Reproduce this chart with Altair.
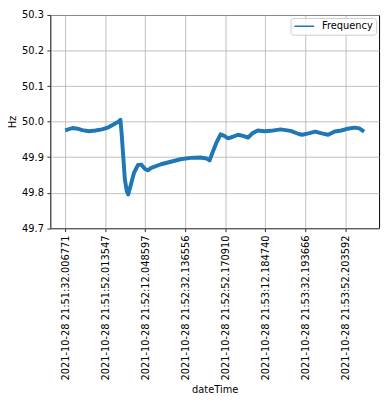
import altair as alt
import pandas as pd

# seconds since 21:51:32.006771
t_sec = [0, 3.6, 6.1, 8.5, 11.8, 15.1, 18.4, 21.6, 24.1, 26.6, 27.6, 28.2, 29.0, 29.8,
         30.7, 31.5, 32.8, 34.4, 36.4, 38.0, 40.0, 41.5, 43.0, 47.9, 52.8, 57.7, 62.6,
         67.5, 70.8, 72.2, 73.8, 75.8, 77.7, 79.5, 81.5, 84.0, 86.4, 88.9, 91.4, 93.8,
         96.3, 99.5, 102.8, 107.7, 112.7, 116.8, 118.4, 121.7, 125.0, 128.3, 131.5,
         134.8, 138.1, 141.4, 144.6, 147.1, 149.5]
freq = [49.975, 49.982, 49.980, 49.976, 49.973, 49.975, 49.978, 49.984, 49.992, 50.000,
        50.005, 49.966, 49.902, 49.838, 49.806, 49.795, 49.822, 49.856, 49.878, 49.879,
        49.866, 49.863, 49.870, 49.880, 49.887, 49.894, 49.898, 49.899, 49.896, 49.891,
        49.915, 49.943, 49.964, 49.960, 49.953, 49.958, 49.963, 49.960, 49.955, 49.968,
        49.975, 49.973, 49.974, 49.978, 49.974, 49.965, 49.963, 49.967, 49.972, 49.967,
        49.963, 49.972, 49.975, 49.980, 49.983, 49.981, 49.972]

tick_pos = [0, 20, 40, 60, 80, 100, 120, 140]
tick_labels = ["2021-10-28 21:51:32.006771", "2021-10-28 21:51:52.013547",
               "2021-10-28 21:52:12.048597", "2021-10-28 21:52:32.136556",
               "2021-10-28 21:52:52.170910", "2021-10-28 21:53:12.184740",
               "2021-10-28 21:53:32.193666", "2021-10-28 21:53:52.203592"]
y_ticks = [49.7, 49.8, 49.9, 50.0, 50.1, 50.2, 50.3]

df = pd.DataFrame({"t": t_sec, "Hz": freq, "series": ["Frequency"] * len(t_sec)})

label_arr = "[" + ",".join("'" + s + "'" for s in tick_labels) + "]"

FONT = "DejaVu Sans"
axis_common = dict(
    grid=True, gridColor="#b0b0b0", gridWidth=0.8,
    tickColor="black", tickWidth=0.8, tickSize=3.5,
    labelFont=FONT, labelFontSize=10, labelColor="black", labelPadding=3.5,
    titleFont=FONT, titleFontSize=10, titleFontWeight="normal", titleColor="black",
    domain=False,
)

chart = alt.Chart(df).mark_line(strokeWidth=4, strokeJoin="round").encode(
    x=alt.X("t:Q",
            scale=alt.Scale(domain=[-7.475, 156.975], nice=False, zero=False),
            axis=alt.Axis(values=tick_pos,
                          labelExpr=label_arr + "[round(datum.value / 20)]",
                          labelAngle=-90, labelAlign="right", labelBaseline="middle",
                          title="dateTime", titlePadding=4, labelOverlap=False,
                          labelBound=False, labelFlush=False,
                          **axis_common)),
    y=alt.Y("Hz:Q",
            scale=alt.Scale(domain=[49.7, 50.3], nice=False, zero=False),
            axis=alt.Axis(values=y_ticks, format=".1f", title="Hz", titlePadding=4,
                          labelFlush=False, labelOverlap=False,
                          **axis_common)),
    color=alt.Color("series:N",
                    scale=alt.Scale(domain=["Frequency"], range=["#1f77b4"]),
                    legend=alt.Legend(title=None, orient="top-right", offset=3,
                                      padding=3, strokeColor="#cccccc", cornerRadius=3,
                                      fillColor="rgba(255,255,255,0.8)",
                                      symbolType="stroke", symbolSize=400,
                                      clipHeight=11,
                                      symbolStrokeWidth=1.5, labelFont=FONT,
                                      labelFontSize=10, labelColor="black",
                                      labelOffset=7)),
).properties(
    width=334, height=216.6,
    autosize=alt.AutoSizeParams(type="none"),
    padding={"left": 43, "top": 4, "right": 5, "bottom": 170},
).configure_view(stroke="black", strokeWidth=1)

chart.save("out.html", embed_options={"renderer": "svg", "actions": False})
